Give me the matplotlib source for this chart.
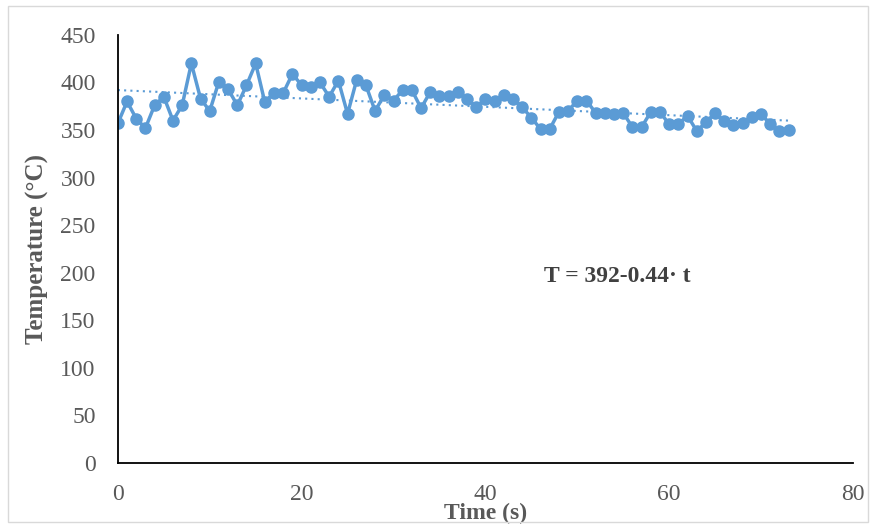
import matplotlib.pyplot as plt
from matplotlib.patches import Rectangle
import numpy as np

# time (s) and temperature readings
time_s = list(range(0, 74))
temperature = [
    357, 380, 362, 352, 376, 385, 360, 376, 420, 383,
    370, 401, 393, 376, 397, 420, 379, 389, 389, 409,
    397, 395, 400, 385, 402, 367, 403, 397, 370, 387,
    381, 392, 392, 373, 390, 386, 386, 390, 383, 374,
    383, 380, 387, 383, 374, 363, 351, 351, 369, 370,
    381, 381, 368, 368, 367, 368, 353, 353, 369, 369,
    356, 356, 365, 349, 358, 368, 359, 355, 357, 364,
    367, 356, 349, 350,
]
fit_a, fit_b = 392, -0.44
fit_label = "T = 392-0.44\u00b7 t"

blue = "#5B9BD5"
grey = "#595959"
serif = ["Liberation Serif", "DejaVu Serif"]
fs = 17

fig = plt.figure(figsize=(8.73, 5.29), dpi=100)
fig.patches.append(Rectangle((0.009, 0.013), 0.985, 0.975, transform=fig.transFigure,
                             fill=False, edgecolor="#d9d9d9", linewidth=1))
ax = fig.add_axes([0.135, 0.125, 0.842, 0.809])

t = np.array(time_s)
ax.plot(t, fit_a + fit_b * t, linestyle=(0, (1, 2)), color=blue, linewidth=1.5, zorder=1)
ax.plot(time_s, temperature, color=blue, linewidth=2.5, marker="o", markersize=8, zorder=2)

ax.set_xlim(0, 80)
ax.set_ylim(0, 450)
ax.set_xticks(range(0, 81, 20))
ax.set_yticks(range(0, 451, 50))
for s in ["top", "right"]:
    ax.spines[s].set_visible(False)
for s in ["left", "bottom"]:
    ax.spines[s].set_color("black")
    ax.spines[s].set_linewidth(1.3)
ax.tick_params(axis="y", length=0, pad=16, labelsize=fs, labelcolor=grey)
ax.tick_params(axis="x", length=0, pad=15, labelsize=fs, labelcolor=grey)
for lbl in ax.get_xticklabels() + ax.get_yticklabels():
    lbl.set_family(serif)

ax.set_xlabel("Time (s)", family=serif, fontsize=fs, fontweight="bold", color=grey)
ax.xaxis.label.set_va("center")
ax.xaxis.set_label_coords(0.5, -0.118)
ax.set_ylabel("Temperature (\u00b0C)", family=serif, fontsize=fs + 1, fontweight="bold", color=grey)
ax.yaxis.label.set_va("center")
ax.yaxis.set_label_coords(-0.109, 0.5)

ax.text(46.4, 196, fit_label, family=serif, fontsize=fs, fontweight="bold", color="#404040",
        va="center", ha="left")

fig.savefig("out.png", dpi=100)
